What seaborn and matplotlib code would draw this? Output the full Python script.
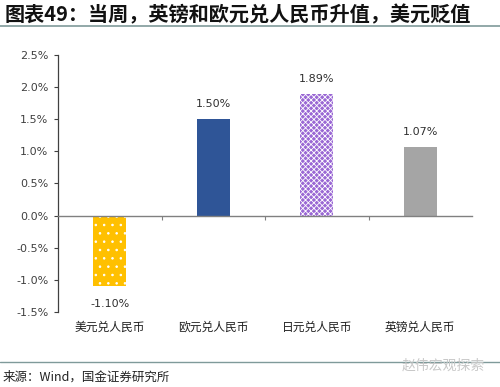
import matplotlib
matplotlib.use("Agg")
import matplotlib.pyplot as plt
import seaborn as sns
import pandas as pd
from matplotlib.ticker import FuncFormatter, FixedLocator
from matplotlib.lines import Line2D

categories = ["美元兑人民币", "欧元兑人民币", "日元兑人民币", "英镑兑人民币"]
values = [-1.10, 1.50, 1.89, 1.07]
value_labels = ["-1.10%", "1.50%", "1.89%", "1.07%"]
colors = ["#FFC000", "#2F5597", "#9A68D4", "#A5A5A5"]
hatches = ["..", "", "xxxxxx", ""]
yticks = [-1.5, -1.0, -0.5, 0.0, 0.5, 1.0, 1.5, 2.0, 2.5]
title = "图表49：当周，英镑和欧元兑人民币升值，美元贬值"
source = "来源：Wind，国金证券研究所"
watermark = "赵伟宏观探索"

sns.set_theme(style="white")
plt.rcParams['font.family'] = ['Noto Sans CJK SC', 'DejaVu Sans']
plt.rcParams['hatch.linewidth'] = 0.6

df = pd.DataFrame({"cat": categories, "val": values})

fig = plt.figure(figsize=(5.0, 3.87), dpi=100)
ax = fig.add_axes([0.116, 0.194, 0.828, 0.664])
sns.barplot(data=df, x="cat", y="val", hue="cat", palette=colors,
            width=0.32, saturation=1, legend=False, ax=ax)

for p, h in zip(ax.patches, hatches):
    if h:
        p.set_hatch(h)
        p.set_edgecolor("white")
        p.set_linewidth(0)
    else:
        p.set_edgecolor("none")

ax.set_ylim(-1.5, 2.5)
ax.set_xlim(-0.5, 3.5)
ax.yaxis.set_major_locator(FixedLocator(yticks))
ax.yaxis.set_major_formatter(FuncFormatter(lambda v, _: f"{v:.1f}%"))
ax.set_xlabel("")
ax.set_ylabel("")

for s in ["top", "right"]:
    ax.spines[s].set_visible(False)
ax.spines["left"].set_color("#404040")
ax.spines["left"].set_linewidth(0.9)
ax.spines["bottom"].set_position(("data", 0))
ax.spines["bottom"].set_color("#808080")
ax.spines["bottom"].set_linewidth(1.0)

ax.tick_params(axis="y", left=True, length=3, width=0.8, color="#404040",
               labelsize=8, labelcolor="#404040", pad=4)
ax.tick_params(axis="x", bottom=True, length=0, labelsize=8.5,
               labelcolor="#202020", pad=76)
ax.set_xticks(range(len(categories)))
ax.set_xticklabels(categories)
ax.set_xticks([0.5, 1.5, 2.5], minor=True)
ax.tick_params(axis="x", which="minor", bottom=True, length=3, width=0.8,
               color="#808080")
for lab in ax.get_yticklabels():
    lab.set_family(['DejaVu Sans'])

for i, (v, lab) in enumerate(zip(values, value_labels)):
    if v >= 0:
        ax.annotate(lab, (i, v), xytext=(0, 7), textcoords="offset points",
                    ha="center", va="bottom", fontsize=8, color="#303030",
                    family=['DejaVu Sans'])
    else:
        ax.annotate(lab, (i, v), xytext=(0, -9), textcoords="offset points",
                    ha="center", va="top", fontsize=8, color="#303030",
                    family=['DejaVu Sans'])

fig.text(0.01, 0.962, title, fontsize=14.5, fontweight="bold", ha="left",
         va="center", color="#111111")
fig.add_artist(Line2D([0, 1], [0.932, 0.932], transform=fig.transFigure,
                      color="#7F9A9A", linewidth=1.2))
fig.add_artist(Line2D([0, 1], [0.064, 0.064], transform=fig.transFigure,
                      color="#7F9A9A", linewidth=1.0))
fig.text(0.005, 0.026, source, fontsize=9, ha="left", va="center",
         color="#222222")
fig.text(0.97, 0.055, watermark, fontsize=10, ha="right", va="center",
         color="#C8C8C8")

fig.savefig("out.png", dpi=100)
